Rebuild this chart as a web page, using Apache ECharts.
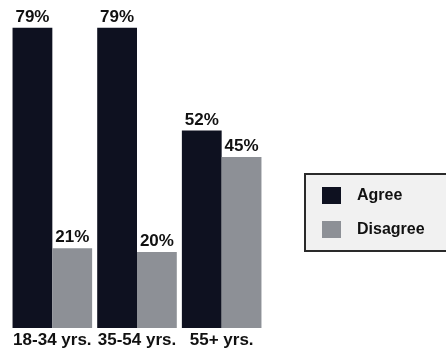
<!DOCTYPE html>
<html>
<head>
<meta charset="utf-8">
<script src="https://cdn.jsdelivr.net/npm/echarts@6/dist/echarts.min.js"></script>
<style>
  html, body { margin: 0; padding: 0; background: #fff; }
  #chart { width: 446px; height: 350px; }
</style>
</head>
<body>
<div id="chart"></div>
<script>
const categories = ['18-34 yrs.', '35-54 yrs.', '55+ yrs.']
const agree = [79, 79, 52]
const disagree = [21, 20, 45]

const font = '"Liberation Sans", Arial, sans-serif'
const chart = echarts.init(document.getElementById('chart'))

const labelStyle = {
    show: true,
    position: 'top',
    distance: 2,
    formatter: '{c}%',
    color: '#111',
    fontFamily: font,
    fontWeight: 'bold',
    fontSize: 17
}

chart.setOption({
    animation: false,
    grid: { left: 10, right: 182, top: 24, bottom: 22 },
    xAxis: {
        type: 'category',
        data: categories,
        axisLine: { show: false },
        axisTick: { show: false },
        axisLabel: {
            interval: 0,
            hideOverlap: false,
            margin: 4,
            color: '#111',
            fontFamily: font,
            fontWeight: 'bold',
            fontSize: 17
        }
    },
    yAxis: {
        type: 'value',
        min: 0,
        max: 80,
        show: false,
        splitLine: { show: false }
    },
    legend: {
        orient: 'vertical',
        left: 305,
        top: 174,
        icon: 'rect',
        itemWidth: 19,
        itemHeight: 17,
        itemGap: 17,
        padding: [13, 30, 13, 17],
        backgroundColor: '#f1f1f1',
        borderColor: '#2a2a2a',
        borderWidth: 2,
        textStyle: {
            color: '#111',
            fontFamily: font,
            fontWeight: 'bold',
            fontSize: 16,
            padding: [0, 0, 0, 11]
        },
        data: ['Agree', 'Disagree']
    },
    series: [
        {
            name: 'Agree',
            type: 'bar',
            data: agree,
            barGap: '0%',
            barCategoryGap: '6%',
            itemStyle: { color: '#0e1120' },
            label: labelStyle
        },
        {
            name: 'Disagree',
            type: 'bar',
            data: disagree,
            itemStyle: { color: '#8d9096' },
            label: labelStyle
        }
    ]
})
</script>
</body>
</html>
